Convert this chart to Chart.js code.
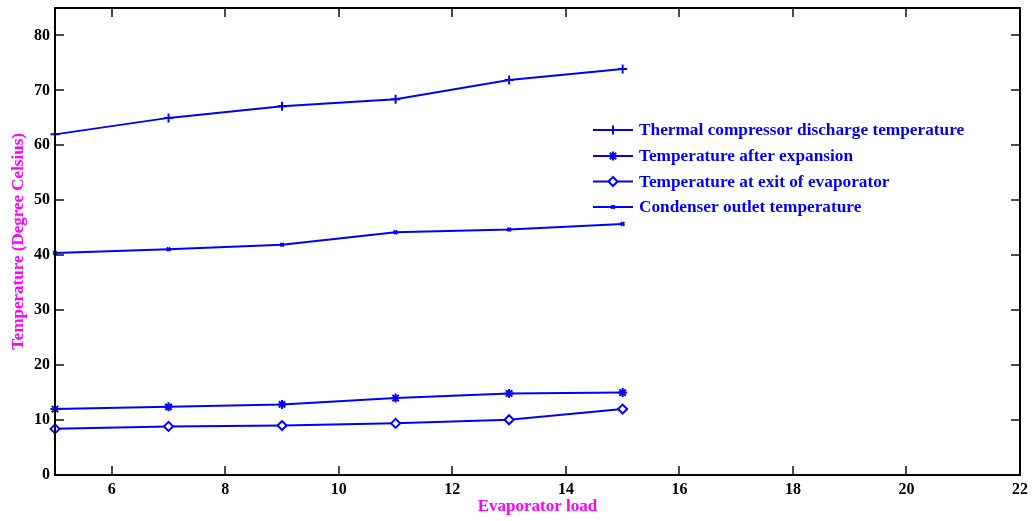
<!DOCTYPE html>
<html>
<head>
<meta charset="utf-8">
<script src="https://cdn.jsdelivr.net/npm/chart.js@4.4.0/dist/chart.umd.min.js"></script>
<style>
  html, body { margin: 0; padding: 0; background: #fff; }
  #wrap { width: 1034px; height: 521px; }
</style>
</head>
<body>
<div id="wrap"><canvas id="tempChart"></canvas></div>
<script>
// Evaporator load vs temperatures

const loads = [5, 7, 9, 11, 13, 15];
const compressorDischarge = [62.0, 65.0, 67.1, 68.4, 71.9, 73.9];
const afterExpansion = [12.0, 12.4, 12.85, 14.0, 14.85, 15.0];
const evaporatorExit = [8.4, 8.85, 9.0, 9.4, 10.05, 12.0];
const condenserOutlet = [40.4, 41.1, 41.9, 44.2, 44.7, 45.7];

const xTicks = [6, 8, 10, 12, 14, 16, 18, 20, 22];
const yTicks = [0, 10, 20, 30, 40, 50, 60, 70, 80];

const seriesNames = [
  "Thermal compressor discharge temperature",
  "Temperature after expansion",
  "Temperature at exit of evaporator",
  "Condenser outlet temperature",
];

const BLUE = "rgb(0, 0, 255)";
const SERIF = "'Liberation Serif', 'DejaVu Serif', serif";

function toPoints(values) {
  return loads.map((x, i) => ({ x: x, y: values[i] }));
}

function makeDataset(label, values, style, radius) {
  return {
    label: label,
    data: toPoints(values),
    borderColor: BLUE,
    backgroundColor: "#fff",
    borderWidth: 2,
    pointStyle: style,
    pointRadius: radius,
    pointBorderWidth: 2,
    pointBorderColor: BLUE,
    pointBackgroundColor: "#fff",
    tension: 0,
    fill: false,
    clip: false,
  };
}

// frame with inward ticks on all four sides
const frameTicks = {
  id: "frameTicks",
  afterDraw(chart) {
    const { ctx, chartArea: a, scales } = chart;
    const len = 9;
    ctx.save();
    ctx.strokeStyle = "#111";
    ctx.lineWidth = 1.5;
    ctx.beginPath();
    xTicks.forEach((v) => {
      const px = Math.round(scales.x.getPixelForValue(v));
      ctx.moveTo(px, a.bottom);
      ctx.lineTo(px, a.bottom - len);
      ctx.moveTo(px, a.top);
      ctx.lineTo(px, a.top + len);
    });
    yTicks.forEach((v) => {
      const py = Math.round(scales.y.getPixelForValue(v));
      ctx.moveTo(a.left, py);
      ctx.lineTo(a.left + len, py);
      ctx.moveTo(a.right, py);
      ctx.lineTo(a.right - len, py);
    });
    ctx.stroke();
    ctx.strokeStyle = "#000";
    ctx.lineWidth = 2;
    ctx.strokeRect(a.left, a.top, a.right - a.left, a.bottom - a.top);
    ctx.restore();
  },
};

// legend drawn inside the plot, no box
const innerLegend = {
  id: "innerLegend",
  afterDraw(chart) {
    const { ctx } = chart;
    const x0 = 593;
    const x1 = 633;
    const rows = [130, 156, 181.5, 207];
    ctx.save();
    ctx.font = "bold 17.3px " + SERIF;
    ctx.textBaseline = "middle";
    chart.data.datasets.forEach((ds, i) => {
      const y = rows[i];
      ctx.strokeStyle = BLUE;
      ctx.lineWidth = 2;
      ctx.beginPath();
      ctx.moveTo(x0, y);
      ctx.lineTo(x1, y);
      ctx.stroke();
      ctx.lineWidth = ds.pointBorderWidth;
      ctx.fillStyle = "#fff";
      Chart.helpers.drawPoint(ctx, { pointStyle: ds.pointStyle, radius: ds.pointRadius, rotation: 0, borderWidth: ds.pointBorderWidth }, (x0 + x1) / 2, y);
      ctx.fillStyle = BLUE;
      ctx.fillText(seriesNames[i], 639, y + 1);
    });
    ctx.restore();
  },
};

const ctx = document.getElementById("tempChart").getContext("2d");

new Chart(ctx, {
  type: "line",
  data: {
    datasets: [
      makeDataset(seriesNames[0], compressorDischarge, "cross", 4.5),
      makeDataset(seriesNames[1], afterExpansion, "star", 4.5),
      makeDataset(seriesNames[2], evaporatorExit, "rectRot", 4.5),
      makeDataset(seriesNames[3], condenserOutlet, "crossRot", 2.5),
    ],
  },
  options: {
    responsive: true,
    maintainAspectRatio: false,
    animation: false,
    layout: {
      padding: { top: 8, right: 14, left: 0, bottom: 0 },
    },
    plugins: {
      legend: { display: false },
      tooltip: { enabled: false },
    },
    scales: {
      x: {
        type: "linear",
        min: 5,
        max: 22,
        afterBuildTicks: (scale) => {
          scale.ticks = xTicks.map((v) => ({ value: v }));
        },
        afterFit: (scale) => {
          scale.height = 46;
          scale.paddingLeft = 0;
          scale.paddingRight = 0;
        },
        grid: { display: false, drawTicks: false },
        border: { display: false },
        ticks: {
          padding: 5,
          color: "#000",
          font: { family: SERIF, size: 16, weight: "bold" },
          maxRotation: 0,
        },
        title: {
          display: true,
          text: "Evaporator load",
          color: "#ff00ff",
          font: { family: SERIF, size: 17, weight: "bold" },
          padding: { top: 0, bottom: 4 },
        },
      },
      y: {
        type: "linear",
        min: 0,
        max: 85,
        afterBuildTicks: (scale) => {
          scale.ticks = yTicks.map((v) => ({ value: v }));
        },
        afterFit: (scale) => {
          scale.width = 55;
          scale.paddingTop = 0;
          scale.paddingBottom = 0;
        },
        grid: { display: false, drawTicks: false },
        border: { display: false },
        ticks: {
          padding: 5,
          color: "#000",
          font: { family: SERIF, size: 16, weight: "bold" },
        },
        title: {
          display: true,
          text: "Temperature (Degree Celsius)",
          color: "#ff00ff",
          font: { family: SERIF, size: 17, weight: "bold" },
          padding: { top: 8, bottom: 0 },
        },
      },
    },
  },
  plugins: [frameTicks, innerLegend],
});
</script>
</body>
</html>
